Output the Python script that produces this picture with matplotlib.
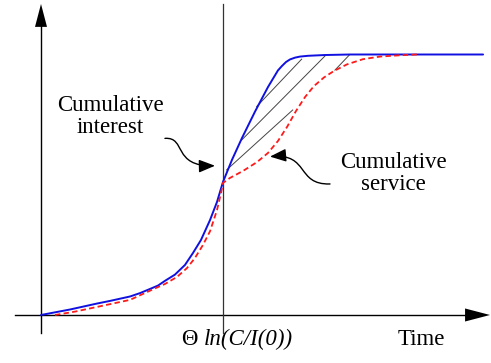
import matplotlib
matplotlib.use("Agg")
import matplotlib.pyplot as plt
from matplotlib.patches import Polygon, FancyArrowPatch
from matplotlib.path import Path

plt.rcParams["font.family"] = ["Liberation Serif", "DejaVu Serif"]

# cumulative interest (solid blue), time scaled so the knee sits at 1
interest_t = [0.0, 0.159, 0.308, 0.379, 0.489, 0.544, 0.599, 0.643, 0.681, 0.736,
              0.791, 0.835, 0.879, 0.929, 0.967, 1.0, 1.049, 1.104, 1.176, 1.247,
              1.302, 1.324, 1.346, 1.368, 1.396, 1.423, 1.467, 1.560, 1.698, 2.429]
interest_v = [0.0, 0.021, 0.044, 0.054, 0.071, 0.084, 0.100, 0.113, 0.131, 0.155,
              0.192, 0.238, 0.288, 0.365, 0.434, 0.511, 0.595, 0.679, 0.781, 0.875,
              0.939, 0.956, 0.971, 0.981, 0.988, 0.992, 0.995, 0.998, 1.0, 1.0]

# cumulative service (dashed red)
service_t = [0.077, 0.187, 0.308, 0.489, 0.626, 0.681, 0.747, 0.802, 0.846, 0.890,
             0.929, 0.967, 0.989, 1.0, 1.038, 1.110, 1.187, 1.247, 1.302, 1.352,
             1.401, 1.451, 1.500, 1.555, 1.610, 1.681, 1.769, 1.863, 1.973, 2.066]
service_v = [0.0, 0.013, 0.031, 0.058, 0.102, 0.119, 0.146, 0.180, 0.219, 0.269,
             0.322, 0.403, 0.468, 0.507, 0.526, 0.553, 0.587, 0.622, 0.668, 0.722,
             0.783, 0.837, 0.879, 0.912, 0.937, 0.962, 0.982, 0.992, 0.997, 1.0]

# hatch strokes between the two curves: (t0, v0, t1, v1)
hatch = [(1.020, 0.557, 1.383, 0.787),
         (1.103, 0.672, 1.560, 0.994),
         (1.185, 0.800, 1.432, 0.982),
         (1.615, 0.940, 1.694, 0.998)]

t_knee = 1.0

fig = plt.figure(figsize=(4.91, 3.63), dpi=100)
ax = fig.add_axes([0, 0, 1, 1])
ax.set_xlim(-0.2253, 2.4725)
ax.set_ylim(-0.1843, 1.2092)
ax.axis("off")

# axes with arrow heads
ax.plot([-0.143, 2.34], [0, 0], color="black", lw=1.0)
ax.add_patch(Polygon([(2.330, -0.025), (2.330, 0.025), (2.467, 0)],
                     closed=True, color="black", lw=0))
ax.plot([0, 0], [-0.069, 1.11], color="black", lw=1.0)
ax.add_patch(Polygon([(-0.033, 1.106), (0.033, 1.106), (0, 1.194)],
                     closed=True, color="black", lw=0))
ax.plot([t_knee, t_knee], [-0.069, 1.194], color="#333333", lw=0.9)

for t0, v0, t1, v1 in hatch:
    ax.plot([t0, t1], [v0, v1], color="#444444", lw=0.7)

ax.plot(interest_t, interest_v, color="#1010e0", lw=1.4,
        solid_joinstyle="round", solid_capstyle="round")
ax.plot(service_t, service_v, color="#ff1a1a", lw=1.3, dashes=(3.0, 1.8))

fs = 16.5
ax.text(0.379, 0.700, "Cumulative\ninterest", fontsize=fs, ha="center",
        va="baseline", multialignment="center", linespacing=1.05)
ax.text(1.934, 0.480, "Cumulative\nservice", fontsize=fs, ha="center",
        va="baseline", multialignment="center", linespacing=1.05)
ax.text(1.962, -0.115, "Time", fontsize=fs, ha="left", va="baseline")
ax.text(0.772, -0.115, "\u0398", fontsize=fs, ha="left", va="baseline")
ax.text(0.895, -0.115, "ln(C/I(0))", fontsize=fs, ha="left", va="baseline",
        style="italic")

# curly pointers from the labels to the curves
p_int = Path([(0.681, 0.678), (0.80, 0.684), (0.72, 0.569), (0.956, 0.573)],
             [Path.MOVETO, Path.CURVE4, Path.CURVE4, Path.CURVE4])
ax.add_patch(FancyArrowPatch(path=p_int, arrowstyle="-|>,head_length=0.7,head_width=0.28",
                             mutation_scale=14, color="black", lw=1.0))
p_srv = Path([(1.588, 0.503), (1.40, 0.499), (1.477, 0.621), (1.258, 0.608)],
             [Path.MOVETO, Path.CURVE4, Path.CURVE4, Path.CURVE4])
ax.add_patch(FancyArrowPatch(path=p_srv, arrowstyle="-|>,head_length=0.7,head_width=0.28",
                             mutation_scale=14, color="black", lw=1.0))

fig.savefig("out.png", dpi=100)
